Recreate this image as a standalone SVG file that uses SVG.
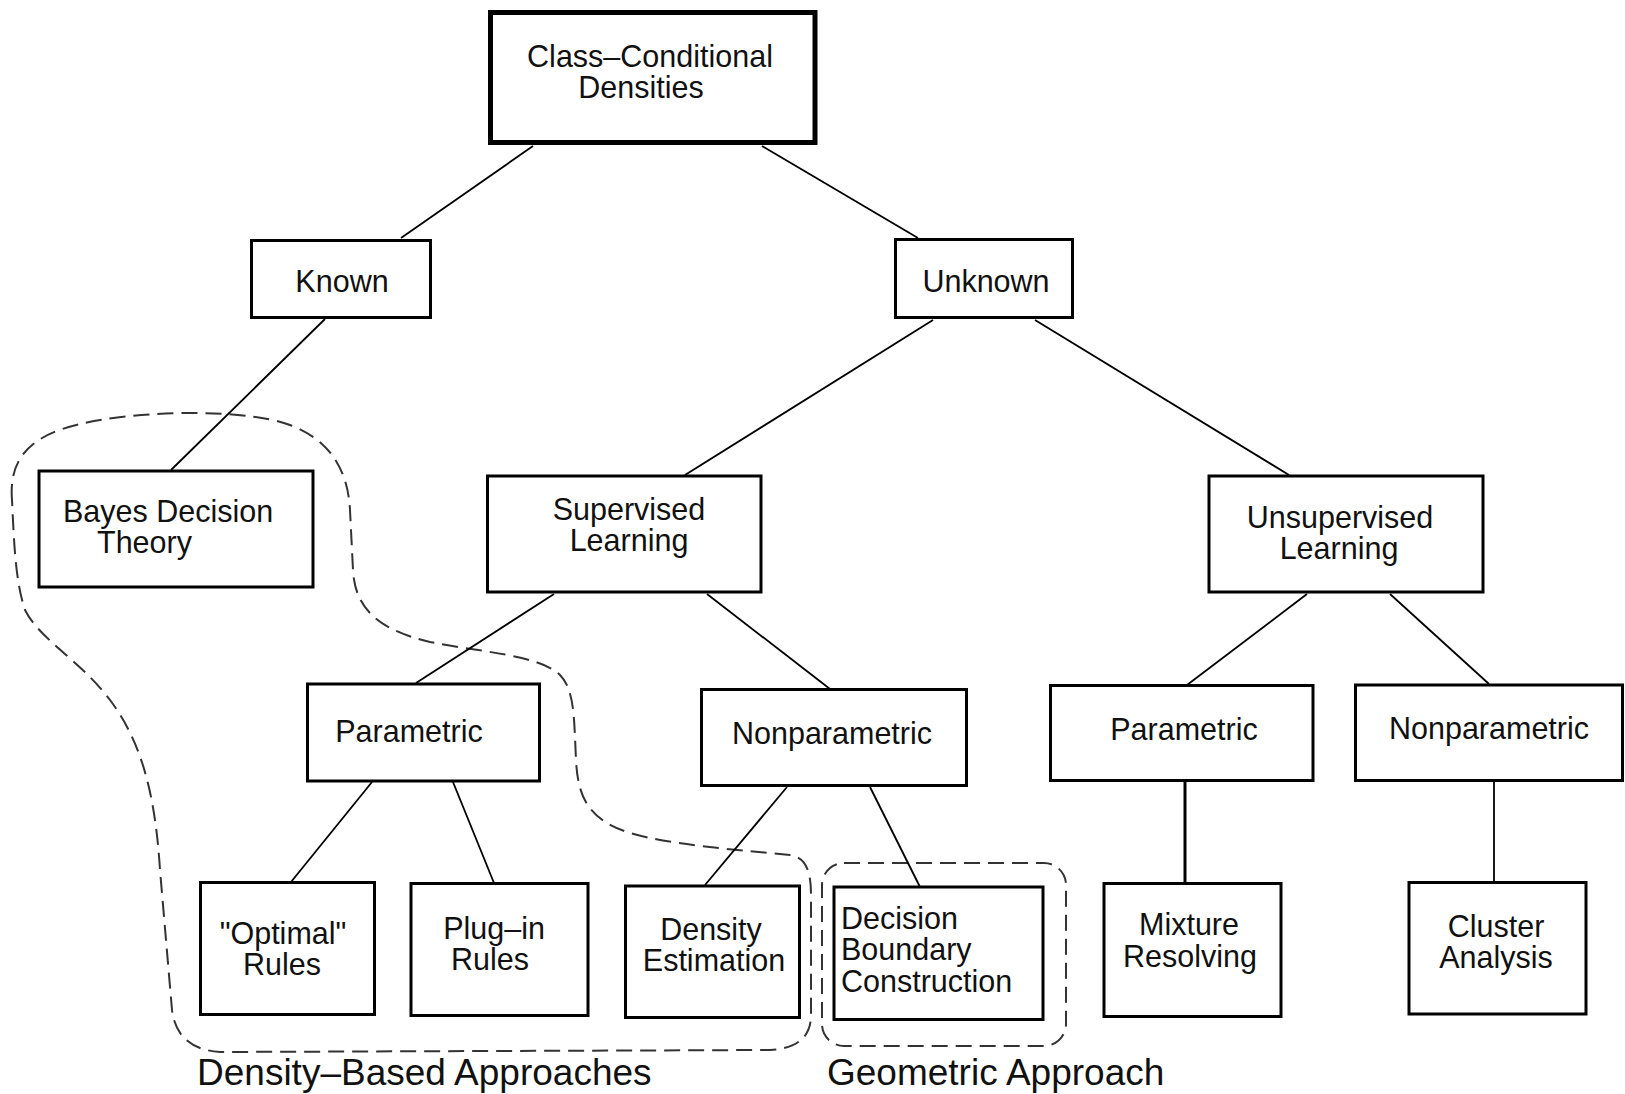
<svg xmlns="http://www.w3.org/2000/svg" width="1625" height="1094" viewBox="0 0 1625 1094">
<style>
.box{fill:#fff;stroke:#000;stroke-width:3}
.top{fill:#fff;stroke:#000;stroke-width:5}
.t{font-family:"Liberation Sans",Arial,sans-serif;font-size:30.5px;fill:#111;text-anchor:middle}
.l{text-anchor:start}
.lab{font-family:"Liberation Sans",Arial,sans-serif;font-size:37px;fill:#111}
.edge{stroke:#000;stroke-width:1.8;fill:none}
.dash{fill:none;stroke:#333;stroke-width:2;stroke-dasharray:16 8}
</style>
<rect width="1625" height="1094" fill="#fff"/>
<g id="regions">
<path class="dash" d="M12,500 C8,450 40,430 100,420 C160,410 250,410 290,425 C330,440 348,470 350,510 L353,570 C355,610 380,630 430,642 C480,652 540,655 560,675 C575,690 574,720 576,760 C578,800 590,820 630,833 C670,845 740,850 790,855 C808,858 811,875 811,895 L811,1015 C811,1035 800,1048 770,1050 L220,1052 C190,1050 175,1035 172,1010 L160,870 C155,790 140,740 110,700 C80,660 40,640 25,610 C15,580 14,540 12,500 Z"/>
<rect class="dash" x="822" y="863" width="244" height="183" rx="22"/>
<text class="lab" x="197" y="1085">Density–Based Approaches</text>
<text class="lab" x="827" y="1085">Geometric Approach</text>
</g>
<g id="connectors">
<line class="edge" x1="533" y1="146" x2="401" y2="238"/>
<line class="edge" x1="762" y1="146" x2="918" y2="238"/>
<line class="edge" x1="325" y1="319" x2="171" y2="470"/>
<line class="edge" x1="933" y1="320" x2="685" y2="475"/>
<line class="edge" x1="1035" y1="320" x2="1289" y2="475"/>
<line class="edge" x1="554" y1="594" x2="416" y2="683"/>
<line class="edge" x1="707" y1="594" x2="830" y2="689"/>
<line class="edge" x1="1307" y1="594" x2="1187" y2="685"/>
<line class="edge" x1="1390" y1="594" x2="1489" y2="684"/>
<line class="edge" x1="372" y1="782" x2="291" y2="882"/>
<line class="edge" x1="453" y1="782" x2="494" y2="883"/>
<line class="edge" x1="787" y1="787" x2="705" y2="885"/>
<line class="edge" x1="870" y1="787" x2="920" y2="887"/>
<line class="edge" x1="1185" y1="782" x2="1185" y2="883" style="stroke-width:3"/>
<line class="edge" x1="1494" y1="781" x2="1494" y2="882"/>
</g>
<g id="n-root"><rect class="top" x="490.5" y="12.5" width="324.5" height="130"/>
<text class="t" x="650" y="67">Class–Conditional</text><text class="t" x="641" y="98">Densities</text></g>
<g id="n-known"><rect class="box" x="251.5" y="240.5" width="179" height="77"/><text class="t" x="342" y="292">Known</text></g>
<g id="n-unknown"><rect class="box" x="895.5" y="239.5" width="177" height="78"/><text class="t" x="986" y="292">Unknown</text></g>
<g id="n-bayes"><rect class="box" x="39" y="471" width="274" height="116"/>
<text class="t l" x="63" y="522">Bayes Decision</text><text class="t l" x="97" y="553">Theory</text></g>
<g id="n-supervised"><rect class="box" x="487.5" y="476" width="273.5" height="116"/>
<text class="t" x="629" y="520">Supervised</text><text class="t" x="629" y="551">Learning</text></g>
<g id="n-unsupervised"><rect class="box" x="1209" y="476" width="274" height="116"/>
<text class="t" x="1340" y="528">Unsupervised</text><text class="t" x="1339" y="559">Learning</text></g>
<g id="n-param-s"><rect class="box" x="307.5" y="684" width="232" height="97"/><text class="t" x="409" y="742">Parametric</text></g>
<g id="n-nonparam-s"><rect class="box" x="701.5" y="689.5" width="265" height="96"/><text class="t" x="832" y="744">Nonparametric</text></g>
<g id="n-param-u"><rect class="box" x="1050.5" y="685.5" width="262.5" height="95"/><text class="t" x="1184" y="740">Parametric</text></g>
<g id="n-nonparam-u"><rect class="box" x="1355.5" y="685" width="267" height="95.5"/><text class="t" x="1489" y="739">Nonparametric</text></g>
<g id="n-optimal"><rect class="box" x="200.5" y="882.5" width="174" height="132"/>
<text class="t" x="283" y="944">"Optimal"</text><text class="t" x="282" y="975">Rules</text></g>
<g id="n-plugin"><rect class="box" x="411" y="883.5" width="177" height="132"/>
<text class="t" x="494" y="939">Plug–in</text><text class="t" x="490" y="970">Rules</text></g>
<g id="n-density"><rect class="box" x="625.5" y="886" width="174" height="131.5"/>
<text class="t" x="711" y="940">Density</text><text class="t" x="714" y="971">Estimation</text></g>
<g id="n-decision"><rect class="box" x="834" y="887" width="209" height="132.5"/>
<text class="t l" x="841" y="929">Decision</text><text class="t l" x="841" y="960">Boundary</text><text class="t l" x="841" y="992">Construction</text></g>
<g id="n-mixture"><rect class="box" x="1104" y="883.5" width="177" height="133"/>
<text class="t" x="1189" y="935">Mixture</text><text class="t" x="1190" y="967">Resolving</text></g>
<g id="n-cluster"><rect class="box" x="1409" y="882.5" width="177" height="131.5"/>
<text class="t" x="1496" y="937">Cluster</text><text class="t" x="1496" y="968">Analysis</text></g>
</svg>
